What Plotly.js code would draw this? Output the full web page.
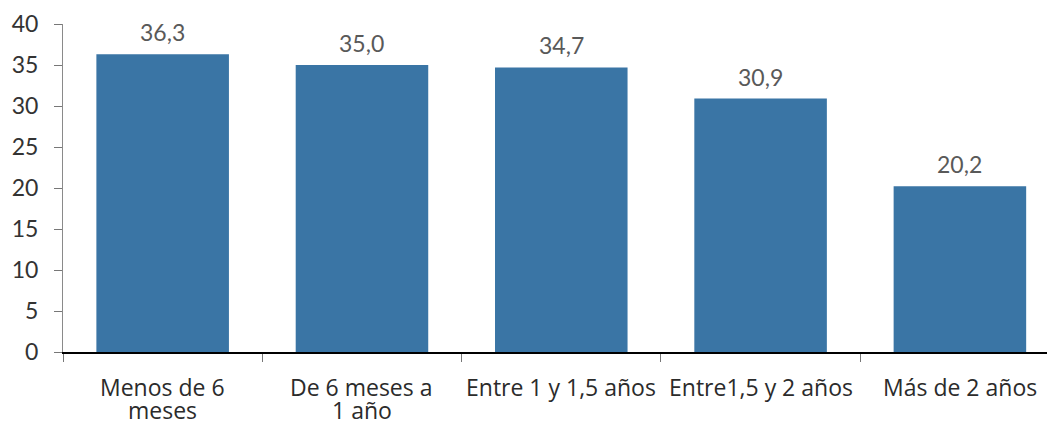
<!DOCTYPE html>
<html>
<head>
<meta charset="utf-8">
<script src="https://cdn.plot.ly/plotly-3.0.1.min.js"></script>
<style>html,body{margin:0;padding:0;background:#fff;}#chart{width:1047px;height:421px;}</style>
</head>
<body>
<div id="chart"></div>
<script>
const categories = ["Menos de 6<br>meses", "De 6 meses a<br>1 año", "Entre 1 y 1,5 años", "Entre1,5 y 2 años", "Más de 2 años"];
const values = [36.3, 35.0, 34.7, 30.9, 20.2];
const yTicks = [0, 5, 10, 15, 20, 25, 30, 35, 40];

const trace = {
  type: "bar",
  x: categories,
  y: values,
  marker: {color: "#3A75A5"},
  width: 0.665,
  hoverinfo: "none"
};

const annotations = [];
// data labels above bars
categories.forEach((c, i) => {
  annotations.push({
    x: c, y: values[i], xref: "x", yref: "y",
    text: values[i].toFixed(1).replace(".", ","),
    showarrow: false, yanchor: "bottom", yshift: 6,
    font: {family: "Lato, 'Open Sans', sans-serif", size: 23, color: "#595959"}
  });
});
// category labels, one annotation per line
categories.forEach(c => {
  c.split("<br>").forEach((line, j) => {
    annotations.push({
      x: c, y: 0, xref: "x", yref: "y",
      text: line, showarrow: false,
      yanchor: "middle", yshift: -35 - 23 * j,
      font: {family: "'Open Sans', 'Noto Sans', sans-serif", size: 23, color: "#2b2b2b"}
    });
  });
});

const layout = {
  width: 1047,
  height: 421,
  margin: {l: 63, r: 0, t: 24, b: 69},
  paper_bgcolor: "#fff",
  plot_bgcolor: "#fff",
  showlegend: false,
  separators: ",.",
  xaxis: {
    type: "category",
    range: [-0.5, 4.437],
    showline: true,
    linecolor: "#000",
    linewidth: 1.5,
    ticks: "outside",
    tickson: "boundaries",
    ticklen: 8,
    tickcolor: "#777",
    tickwidth: 1,
    showgrid: false,
    showticklabels: false,
    fixedrange: true
  },
  yaxis: {
    range: [0, 40],
    tickvals: yTicks,
    ticktext: yTicks.map(String),
    showline: true,
    linecolor: "#8a8a8a",
    linewidth: 1,
    ticks: "outside",
    ticklen: 8,
    tickcolor: "#777",
    ticklabelstandoff: 11,
    showgrid: false,
    zeroline: false,
    tickfont: {family: "Lato, 'Open Sans', sans-serif", size: 23, color: "#333"},
    fixedrange: true
  },
  annotations: annotations
};

Plotly.newPlot("chart", [trace], layout, {displayModeBar: false, staticPlot: true});
</script>
</body>
</html>
